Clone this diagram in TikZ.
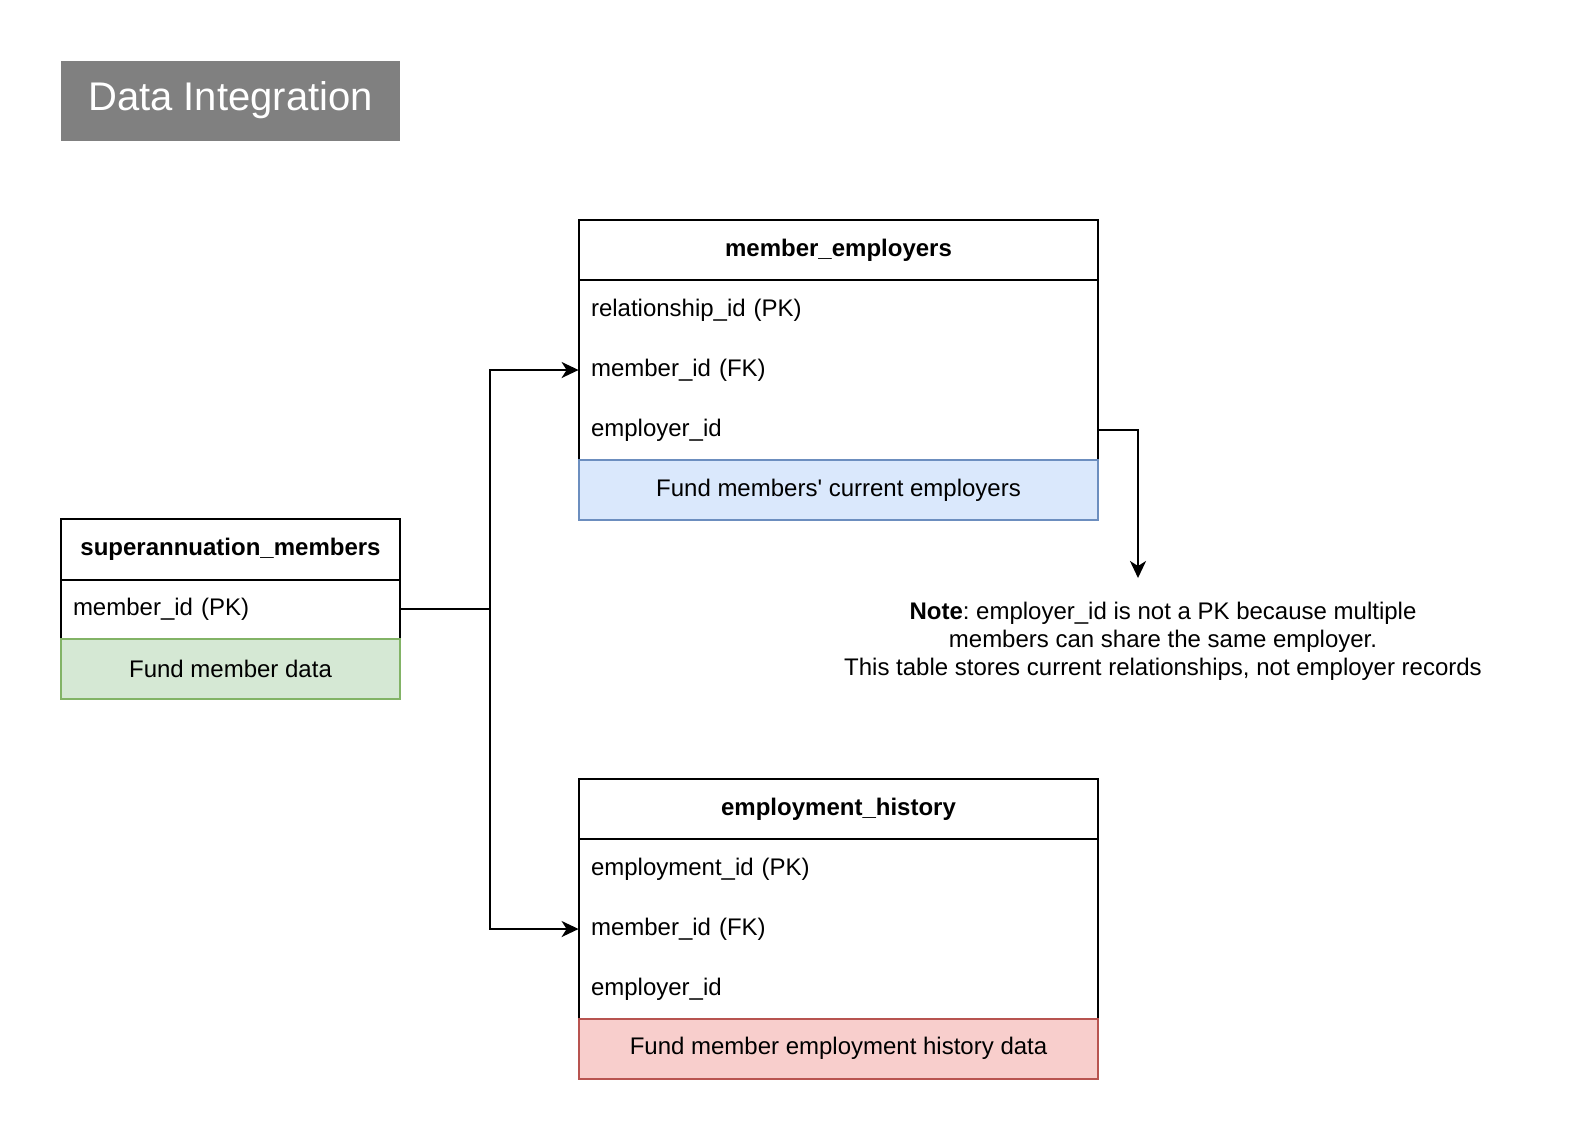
\documentclass[tikz,border=0pt]{standalone}
\usepackage{fontspec}
\setmainfont{Liberation Sans}
\usetikzlibrary{arrows.meta}
\frenchspacing
\definecolor{titlegray}{HTML}{808080}
\definecolor{gfill}{HTML}{D5E8D4}
\definecolor{gline}{HTML}{82B366}
\definecolor{bfill}{HTML}{DAE8FC}
\definecolor{bline}{HTML}{6C8EBF}
\definecolor{rfill}{HTML}{F8CECC}
\definecolor{rline}{HTML}{B85450}
\tikzset{
  hdr/.style={minimum height=30pt, inner sep=0pt, font=\fontsize{12}{14}\selectfont\bfseries},
  rowcell/.style={minimum height=30pt, inner xsep=6pt, inner ysep=0pt, align=left, font=\fontsize{12}{14}\selectfont},
  foot/.style={draw=#1line, fill=#1fill, line width=1pt, minimum height=30pt, inner sep=0pt, font=\fontsize{12}{14}\selectfont},
  tbl/.style={draw=black, line width=1pt},
  conn/.style={draw=black, line width=1pt, -{Stealth[length=8.5pt,width=8pt,inset=2.5pt]}},
  plainline/.style={draw=black, line width=1pt},
}
\begin{document}
\begin{tikzpicture}[x=0.5pt,y=-0.5pt]
\useasboundingbox (0,0) rectangle (1572,1142);
\fill[white] (0,0) rectangle (1572,1142);

% title
\node[fill=titlegray, minimum width=169.5pt, minimum height=40pt, inner sep=0pt,
      text=white, font=\fontsize{20}{24}\selectfont] (title) at (230.5,100.5) {Data Integration};

% superannuation_members
\node[hdr, minimum width=169.5pt] (smh) at (230.5,549.5) {superannuation\_members};
\node[rowcell, text width=157.5pt] (sm1) at (230.5,609) {member\_id (PK)};
\draw[tbl] (smh.north west) rectangle (sm1.south east);
\draw[tbl] (smh.south west) -- (smh.south east);
\node[foot=g, minimum width=169.5pt] (smf) at (230.5,669) {Fund member data};

% member_employers
\node[hdr, minimum width=259.5pt] (meh) at (838.5,250) {member\_employers};
\node[rowcell, text width=247.5pt] (me1) at (838.5,310) {relationship\_id (PK)};
\node[rowcell, text width=247.5pt] (me2) at (838.5,370) {member\_id (FK)};
\node[rowcell, text width=247.5pt] (me3) at (838.5,430) {employer\_id};
\draw[tbl] (meh.north west) rectangle (me3.south east);
\draw[tbl] (meh.south west) -- (meh.south east);
\node[foot=b, minimum width=259.5pt] (mef) at (838.5,490) {Fund members\textquotesingle{} current employers};

% employment_history
\node[hdr, minimum width=259.5pt] (ehh) at (838.5,809) {employment\_history};
\node[rowcell, text width=247.5pt] (eh1) at (838.5,869) {employment\_id (PK)};
\node[rowcell, text width=247.5pt] (eh2) at (838.5,929) {member\_id (FK)};
\node[rowcell, text width=247.5pt] (eh3) at (838.5,989) {employer\_id};
\draw[tbl] (ehh.north west) rectangle (eh3.south east);
\draw[tbl] (ehh.south west) -- (ehh.south east);
\node[foot=r, minimum width=259.5pt] (ehf) at (838.5,1048.5) {Fund member employment history data};

% note
\node[align=center, inner sep=0pt, font=\fontsize{12}{14}\selectfont] (note) at (1163,641)
  {\textbf{Note}: employer\_id is not a PK because multiple\\members can share the same employer.\\This table stores current relationships, not employer records};

% connectors
\coordinate (j) at (490,609);
\coordinate (nt) at (1138,578);
\draw[plainline] (sm1.east) -- (j);
\draw[conn] (j) |- (me2.west);
\draw[conn] (j) |- (eh2.west);
\draw[conn] (me3.east) -| (nt);
\end{tikzpicture}
\end{document}
